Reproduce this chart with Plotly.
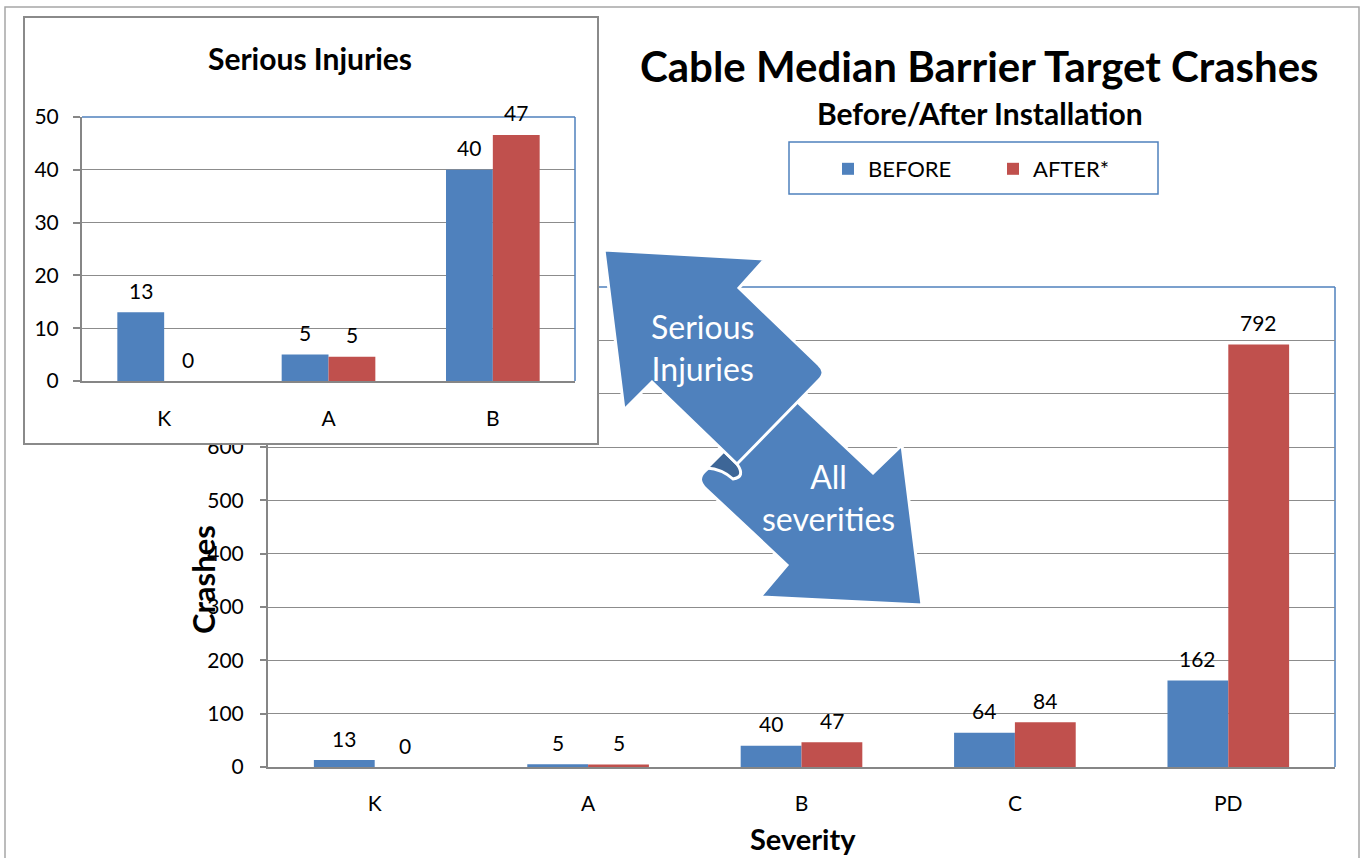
import plotly.graph_objects as go

# ---------------- data ----------------
categories = ["K", "A", "B", "C", "PD"]
before_vals = [13, 5, 40, 64, 162]
after_vals = [0, 4.6, 46.6, 84, 792]

inset_categories = ["K", "A", "B"]
inset_before = [13, 5, 40]
inset_after = [0, 4.6, 46.6]

main_yticks = [0, 100, 200, 300, 400, 500, 600, 700, 800]
inset_yticks = [0, 10, 20, 30, 40, 50]

series_names = ["BEFORE", "AFTER*"]

# ---------------- style ----------------
W, H = 1362, 858
BLUE = "#4F81BD"
RED = "#C0504D"
DARKBLUE = "#3D6697"
GRID = "#8C8C8C"
AXIS = "#868686"
FONT = "Lato, sans-serif"
BARGAP = 0.43

MAIN_X = (268, 1335)
MAIN_Y = (287, 767)
COVER_X = (25, 597)
COVER_Y = (18, 443)
INSET_X = (82, 575)
INSET_Y = (117, 381)


def px(x):
    return x / W


def py(y):
    return 1 - y / H


def path(cmds):
    """cmds: list of (cmd, [(x, y), ...]) in pixel units -> SVG path in paper units"""
    out = []
    for cmd, pts in cmds:
        out.append(cmd + " ".join(f"{px(a):.5f},{py(b):.5f}" for a, b in pts))
    return " ".join(out) + " Z"


def poly(start, pts):
    return [("M", [start])] + [("L", [p]) for p in pts]


fig = go.Figure()

# main chart bars
fig.add_trace(go.Bar(x=categories, y=before_vals, name=series_names[0],
                     marker=dict(color=BLUE, line=dict(width=0)),
                     xaxis="x", yaxis="y", hoverinfo="skip"))
fig.add_trace(go.Bar(x=categories, y=after_vals, name=series_names[1],
                     marker=dict(color=RED, line=dict(width=0)),
                     xaxis="x", yaxis="y", hoverinfo="skip"))

# cover panel for inset (empty subplot with white background)
fig.add_trace(go.Scatter(x=[None], y=[None], xaxis="x2", yaxis="y2",
                         showlegend=False, hoverinfo="skip"))

# inset bars
fig.add_trace(go.Bar(x=inset_categories, y=inset_before, name=series_names[0],
                     marker=dict(color=BLUE, line=dict(width=0)),
                     xaxis="x3", yaxis="y3", showlegend=False, hoverinfo="skip"))
fig.add_trace(go.Bar(x=inset_categories, y=inset_after, name=series_names[1],
                     marker=dict(color=RED, line=dict(width=0)),
                     xaxis="x3", yaxis="y3", showlegend=False, hoverinfo="skip"))

tickfont = dict(size=21, color="black", family=FONT)

fig.update_layout(
    width=W, height=H,
    margin=dict(l=0, r=0, t=0, b=0),
    paper_bgcolor="white", plot_bgcolor="white",
    barmode="group", bargap=BARGAP, bargroupgap=0,
    font=dict(family=FONT, color="black"),
    showlegend=True,
    legend=dict(orientation="h", x=px(828), xanchor="left", y=py(169), yanchor="middle",
                font=dict(size=22, family=FONT, color="black"),
                bgcolor="rgba(0,0,0,0)", borderwidth=0, entrywidth=120, entrywidthmode="pixels",
                traceorder="normal"),
    xaxis=dict(domain=[px(MAIN_X[0]), px(MAIN_X[1])], anchor="y", showline=True, linecolor=AXIS,
               linewidth=2, ticks="", tickfont=tickfont, ticklabelstandoff=17, showgrid=False,
               automargin=False, fixedrange=True),
    yaxis=dict(domain=[py(MAIN_Y[1]), py(MAIN_Y[0])], anchor="x", range=[0, 900], tickvals=main_yticks,
               showline=True, linecolor=AXIS, linewidth=2, ticks="outside", ticklen=6, tickcolor=AXIS,
               tickwidth=1.5, tickfont=tickfont, ticklabelstandoff=12, showgrid=True, gridcolor=GRID,
               gridwidth=1.2, zeroline=False, automargin=False, fixedrange=True),
    xaxis2=dict(domain=[px(COVER_X[0]), px(COVER_X[1])], anchor="y2", range=[0, 1], showline=True,
                mirror=True, linecolor="#8A8A8A", linewidth=1.5, showgrid=False, zeroline=False,
                showticklabels=False, ticks="", automargin=False, fixedrange=True),
    yaxis2=dict(domain=[py(COVER_Y[1]), py(COVER_Y[0])], anchor="x2", range=[0, 1], showline=True,
                mirror=True, linecolor="#8A8A8A", linewidth=1.5, showgrid=False, zeroline=False,
                showticklabels=False, ticks="", automargin=False, fixedrange=True),
    xaxis3=dict(domain=[px(INSET_X[0]), px(INSET_X[1])], anchor="y3", showline=True, linecolor=AXIS,
                linewidth=2, ticks="", tickfont=tickfont, ticklabelstandoff=18, showgrid=False,
                automargin=False, fixedrange=True),
    yaxis3=dict(domain=[py(INSET_Y[1]), py(INSET_Y[0])], anchor="x3", range=[0, 50], tickvals=inset_yticks,
                showline=True, linecolor=AXIS, linewidth=2, ticks="outside", ticklen=7, tickcolor=AXIS,
                tickwidth=1.5, tickfont=tickfont, ticklabelstandoff=10, showgrid=True, gridcolor=GRID,
                gridwidth=1.2, zeroline=False, automargin=False, fixedrange=True),
)

shapes = []
# outer chart border
shapes.append(dict(type="rect", xref="paper", yref="paper", x0=px(5), x1=px(1359), y0=-0.05, y1=py(7),
                   line=dict(color="#A6A6A6", width=1.5), fillcolor="rgba(0,0,0,0)", layer="below"))
# main plot area top/right border (blue)
shapes.append(dict(type="line", xref="paper", yref="paper", x0=px(MAIN_X[0]), x1=px(MAIN_X[1]),
                   y0=py(MAIN_Y[0]), y1=py(MAIN_Y[0]), line=dict(color=BLUE, width=1.5), layer="below"))
shapes.append(dict(type="line", xref="paper", yref="paper", x0=px(MAIN_X[1]), x1=px(MAIN_X[1]),
                   y0=py(MAIN_Y[0]), y1=py(MAIN_Y[1]), line=dict(color=BLUE, width=1.5), layer="below"))
# inset plot area top/right border (blue)
shapes.append(dict(type="line", xref="paper", yref="paper", x0=px(INSET_X[0]), x1=px(INSET_X[1]),
                   y0=py(INSET_Y[0]), y1=py(INSET_Y[0]), line=dict(color=BLUE, width=1.5), layer="above"))
shapes.append(dict(type="line", xref="paper", yref="paper", x0=px(INSET_X[1]), x1=px(INSET_X[1]),
                   y0=py(INSET_Y[0]), y1=py(INSET_Y[1]), line=dict(color=BLUE, width=1.5), layer="above"))
# legend frame
shapes.append(dict(type="rect", xref="paper", yref="paper", x0=px(789), x1=px(1158), y0=py(194), y1=py(142),
                   line=dict(color=BLUE, width=1.5), fillcolor="white", layer="below"))

# decorative double arrow
lower_arrow = path(poly((790, 395), [(873, 473), (902, 445), (922, 605), (760, 597), (787, 565), (706, 489)])
                   + [("Q", [(695, 479), (706, 470)])])
fold = path([("M", [(724, 451)]), ("L", [(737, 464)]),
             ("Q", [(746, 477), (733, 479)]), ("Q", [(722, 469), (707, 468)])])
upper_arrow = path(poly((604, 250), [(765, 259), (739, 288), (819, 365)])
                   + [("Q", [(827, 372), (819, 380)])]
                   + [("L", [(737, 464)]), ("L", [(652, 382)]), ("L", [(624, 410)])])
for p, col in [(lower_arrow, BLUE), (fold, DARKBLUE), (upper_arrow, BLUE)]:
    shapes.append(dict(type="path", xref="paper", yref="paper", path=p, fillcolor=col,
                       line=dict(color="white", width=3), layer="above"))

fig.update_layout(shapes=shapes)

annotations = [
    dict(text="<b>Cable Median Barrier Target Crashes</b>", x=px(979), y=py(66),
         font=dict(size=42, family=FONT, color="black")),
    dict(text="<b>Before/After Installation</b>", x=px(980), y=py(113),
         font=dict(size=30, family=FONT, color="black")),
    dict(text="<b>Severity</b>", x=px(803), y=py(838),
         font=dict(size=29, family=FONT, color="black")),
    dict(text="<b>Crashes</b>", x=px(203), y=py(580), textangle=-90,
         font=dict(size=31, family=FONT, color="black")),
    dict(text="<b>Serious Injuries</b>", x=px(310), y=py(58),
         font=dict(size=30, family=FONT, color="black")),
    dict(text="Serious<br>Injuries", x=px(702), y=py(347),
         font=dict(size=32, family=FONT, color="white")),
    dict(text="All<br>severities", x=px(829), y=py(497),
         font=dict(size=32, family=FONT, color="white")),
]
for a in annotations:
    a.update(xref="paper", yref="paper", showarrow=False, xanchor="center", yanchor="middle")


# data labels (positioned from the data through the axes)
def label_annots(cats, vals, xref, yref, half_width, sign):
    out = []
    for c, v in zip(cats, vals):
        out.append(dict(text=f"{v:.0f}", x=c, y=v, xref=xref, yref=yref, showarrow=False,
                        xanchor="center", yanchor="middle", xshift=sign * half_width, yshift=22,
                        font=dict(size=21, family=FONT, color="black")))
    return out


main_half = (MAIN_X[1] - MAIN_X[0]) / len(categories) * (1 - BARGAP) / 4
inset_half = (INSET_X[1] - INSET_X[0]) / len(inset_categories) * (1 - BARGAP) / 4
annotations += label_annots(categories, before_vals, "x", "y", main_half, -1)
annotations += label_annots(categories, after_vals, "x", "y", main_half, 1)
annotations += label_annots(inset_categories, inset_before, "x3", "y3", inset_half, -1)
annotations += label_annots(inset_categories, inset_after, "x3", "y3", inset_half, 1)

fig.update_layout(annotations=annotations)

fig.write_html("out.html", config={"displayModeBar": False},
               post_script="document.body.style.margin='0';document.body.style.overflow='hidden';")
